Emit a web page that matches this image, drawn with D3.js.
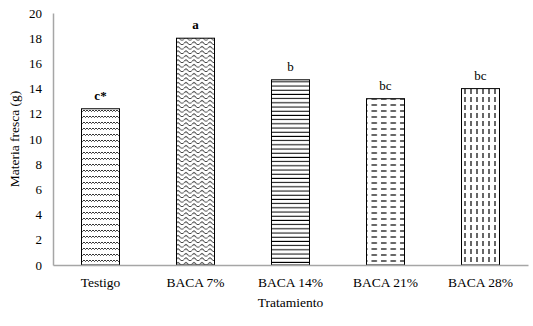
<!DOCTYPE html>
<html>
<head>
<meta charset="utf-8">
<style>
body { margin: 0; background: #fff; }
svg { font-family: "Liberation Serif", "Times New Roman", serif; }
.axis .domain { stroke: #a6a6a6; stroke-width: 1.5; }
.axis text { fill: #000; }
.axis-y text { font-size: 13px; }
.axis-x text { font-size: 13.5px; }
</style>
</head>
<body>
<svg id="chart" width="533" height="326"></svg>
<script src="https://d3js.org/d3.v7.min.js"></script>
<script>
let categories = ["Testigo", "BACA 7%", "BACA 14%", "BACA 21%", "BACA 28%"];
let values = [12.4, 18.0, 14.7, 13.2, 14.0];
let letters = ["c*", "a", "b", "bc", "bc"];
let boldLetters = [true, true, false, false, false];
let yTicks = [0, 2, 4, 6, 8, 10, 12, 14, 16, 18, 20];

let svg = d3.select("#chart");
let plotLeft = 53, plotRight = 528, plotTop = 13, plotBottom = 265;
let serif = "'Liberation Serif', 'Times New Roman', serif";

// fill patterns, one per bar
let defs = svg.append("defs");
let p0 = defs.append("pattern").attr("id", "pat0").attr("patternUnits", "userSpaceOnUse")
    .attr("width", 6).attr("height", 6);
p0.append("path").attr("d", "M0,2 L1.5,3.5 L3,2 L4.5,3.5 L6,2")
    .attr("fill", "none").attr("stroke", "#000").attr("stroke-width", 0.8);

let p1 = defs.append("pattern").attr("id", "pat1").attr("patternUnits", "userSpaceOnUse")
    .attr("width", 8).attr("height", 4.5);
p1.append("path").attr("d", "M0,3 Q2,0 4,3 T8,3")
    .attr("fill", "none").attr("stroke", "#000").attr("stroke-width", 0.9);

let p2 = defs.append("pattern").attr("id", "pat2").attr("patternUnits", "userSpaceOnUse")
    .attr("width", 8).attr("height", 4.2);
p2.append("line").attr("x1", 0).attr("x2", 8).attr("y1", 2).attr("y2", 2)
    .attr("stroke", "#000").attr("stroke-width", 1);

let p3 = defs.append("pattern").attr("id", "pat3").attr("patternUnits", "userSpaceOnUse")
    .attr("width", 9.5).attr("height", 6);
p3.append("line").attr("x1", 1).attr("x2", 6.5).attr("y1", 3).attr("y2", 3)
    .attr("stroke", "#000").attr("stroke-width", 1.2);

let p4 = defs.append("pattern").attr("id", "pat4").attr("patternUnits", "userSpaceOnUse")
    .attr("width", 6).attr("height", 8);
p4.append("line").attr("x1", 3).attr("x2", 3).attr("y1", 1).attr("y2", 6)
    .attr("stroke", "#000").attr("stroke-width", 1.2);

// scales
let xScale = d3.scaleBand()
    .domain(categories)
    .range([plotLeft, plotRight])
    .paddingInner(0.6)
    .paddingOuter(0.3);
let yScale = d3.scaleLinear()
    .domain([0, 20])
    .range([plotBottom, plotTop]);

// bars
svg.selectAll("rect.bar")
    .data(values)
    .join("rect")
    .attr("class", "bar")
    .attr("x", (d, i) => xScale(categories[i]))
    .attr("y", d => yScale(d))
    .attr("width", xScale.bandwidth())
    .attr("height", d => yScale(0) - yScale(d))
    .attr("fill", (d, i) => "url(#pat" + i + ")")
    .attr("stroke", "#000")
    .attr("stroke-width", 1);

// significance letters
svg.selectAll("text.letter")
    .data(values)
    .join("text")
    .attr("class", "letter")
    .attr("x", (d, i) => xScale(categories[i]) + xScale.bandwidth() / 2)
    .attr("y", d => yScale(d) - 9)
    .attr("text-anchor", "middle")
    .attr("font-size", 13)
    .attr("font-weight", (d, i) => boldLetters[i] ? "bold" : "normal")
    .text((d, i) => letters[i]);

// y axis
svg.append("g")
    .attr("class", "axis axis-y")
    .attr("transform", "translate(" + plotLeft + ",0)")
    .call(d3.axisLeft(yScale).tickValues(yTicks).tickSize(0).tickPadding(11))
    .attr("font-family", serif);

// x axis
svg.append("g")
    .attr("class", "axis axis-x")
    .attr("transform", "translate(0," + plotBottom + ")")
    .call(d3.axisBottom(xScale).tickSize(0).tickPadding(12))
    .attr("font-family", serif);

// axis titles
svg.append("text")
    .attr("transform", "translate(16," + (plotTop + plotBottom) / 2 + ") rotate(-90)")
    .attr("text-anchor", "middle")
    .attr("dominant-baseline", "middle")
    .attr("font-size", 13.5)
    .text("Materia fresca (g)");

svg.append("text")
    .attr("x", (plotLeft + plotRight) / 2)
    .attr("y", 307)
    .attr("text-anchor", "middle")
    .attr("font-size", 13.5)
    .text("Tratamiento");
</script>
</body>
</html>
